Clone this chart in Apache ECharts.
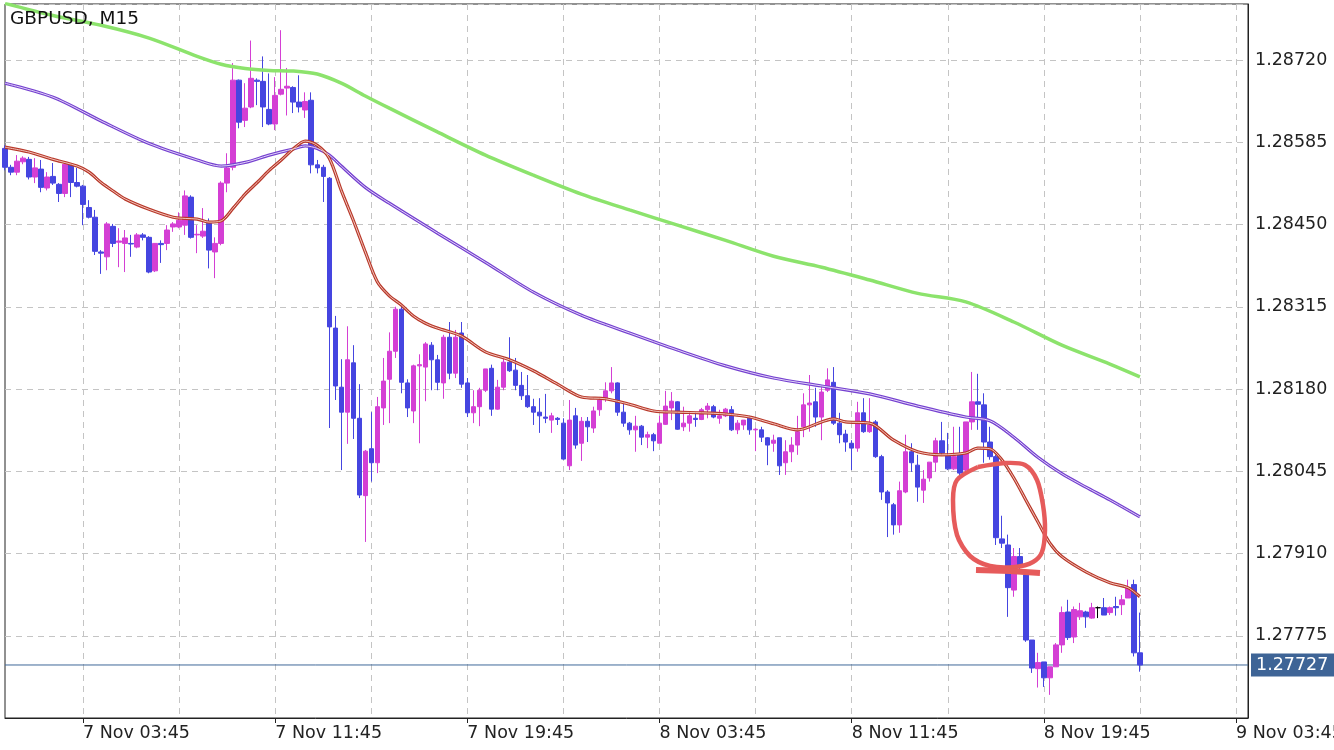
<!DOCTYPE html>
<html><head><meta charset="utf-8">
<script src="https://cdn.jsdelivr.net/npm/echarts@6/dist/echarts.min.js"></script>
<style>html,body{margin:0;padding:0;background:#fff}#c{width:1334px;height:750px}</style>
</head><body><div id="c"></div>
<script>
const openP = [1.28575,1.28544,1.28536,1.28553,1.28557,1.28528,1.28541,1.28510,1.28529,1.28516,1.28501,1.28548,1.28519,1.28513,1.28478,1.28462,1.28405,1.28397,1.28447,1.28421,
1.28419,1.28419,1.28413,1.28433,1.28429,1.28374,1.28419,1.28419,1.28446,1.28446,1.28449,1.28495,1.28433,1.28431,1.28452,1.28405,1.28419,1.28518,1.28544,1.28687,
1.28621,1.28643,1.28687,1.28685,1.28639,1.28615,1.28664,1.28674,1.28675,1.28651,1.28638,1.28654,1.28548,1.28544,1.28526,1.28280,1.28183,1.28142,1.28223,1.28132,
1.28005,1.28082,1.28059,1.28149,1.28196,1.28242,1.28311,1.28190,1.28144,1.28218,1.28216,1.28252,1.28228,1.28190,1.28265,1.28206,1.28272,1.28190,1.28141,1.28151,
1.28178,1.28214,1.28147,1.28183,1.28224,1.28211,1.28186,1.28169,1.28151,1.28142,1.28134,1.28129,1.28132,1.28124,1.28054,1.28136,1.28091,1.28127,1.28116,1.28146,
1.28165,1.28177,1.28190,1.28142,1.28124,1.28113,1.28119,1.28101,1.28105,1.28091,1.28122,1.28149,1.28159,1.28118,1.28124,1.28132,1.28130,1.28146,1.28151,1.28132,
1.28136,1.28146,1.28113,1.28121,1.28132,1.28113,1.28113,1.28100,1.28091,1.28100,1.28059,1.28077,1.28088,1.28118,1.28154,1.28159,1.28134,1.28178,1.28191,1.28124,
1.28106,1.28091,1.28083,1.28141,1.28110,1.28126,1.28069,1.28011,1.27990,1.27957,1.28011,1.28077,1.28055,1.28014,1.28034,1.28060,1.28095,1.28070,1.28049,1.28072,
1.28047,1.28126,1.28159,1.28154,1.28093,1.28069,1.27934,1.27924,1.27850,1.27905,1.27875,1.27768,1.27721,1.27732,1.27706,1.27724,1.27760,1.27814,1.27773,1.27806,
1.27814,1.27804,1.27821,1.27821,1.27813,1.27823,1.27826,1.27837,1.27859,1.27747];
const closeP = [1.28544,1.28536,1.28554,1.28559,1.28528,1.28543,1.28511,1.28528,1.28518,1.28501,1.28549,1.28519,1.28513,1.28483,1.28462,1.28406,1.28403,1.28451,1.28419,1.28423,
1.28428,1.28418,1.28433,1.28429,1.28372,1.28419,1.28417,1.28441,1.28451,1.28457,1.28497,1.28429,1.28434,1.28439,1.28408,1.28419,1.28518,1.28543,1.28687,1.28618,
1.28641,1.28690,1.28685,1.28643,1.28615,1.28662,1.28672,1.28677,1.28651,1.28643,1.28652,1.28548,1.28543,1.28529,1.28282,1.28185,1.28142,1.28228,1.28132,1.28006,
1.28078,1.28059,1.28151,1.28193,1.28242,1.28311,1.28191,1.28149,1.28218,1.28220,1.28254,1.28228,1.28191,1.28265,1.28206,1.28265,1.28188,1.28141,1.28151,1.28178,
1.28213,1.28147,1.28183,1.28224,1.28210,1.28186,1.28169,1.28151,1.28142,1.28136,1.28132,1.28136,1.28130,1.28065,1.28129,1.28088,1.28127,1.28118,1.28144,1.28162,
1.28177,1.28190,1.28142,1.28124,1.28113,1.28119,1.28101,1.28105,1.28095,1.28124,1.28152,1.28160,1.28114,1.28124,1.28136,1.28130,1.28146,1.28152,1.28134,1.28136,
1.28147,1.28113,1.28124,1.28129,1.28113,1.28114,1.28101,1.28088,1.28096,1.28054,1.28077,1.28088,1.28110,1.28154,1.28157,1.28134,1.28175,1.28195,1.28124,1.28105,
1.28093,1.28083,1.28141,1.28110,1.28121,1.28069,1.28011,1.27993,1.27957,1.28013,1.28077,1.28059,1.28019,1.28032,1.28060,1.28095,1.28075,1.28049,1.28069,1.28042,
1.28126,1.28159,1.28155,1.28093,1.28069,1.27936,1.27927,1.27854,1.27905,1.27891,1.27768,1.27722,1.27731,1.27706,1.27724,1.27760,1.27813,1.27772,1.27818,1.27816,
1.27806,1.27821,1.27821,1.27809,1.27821,1.27821,1.27834,1.27854,1.27747,1.27727];
const lowP = [1.28539,1.28531,1.28531,1.28549,1.28524,1.28518,1.28503,1.28506,1.28515,1.28487,1.28495,1.28495,1.28511,1.28449,1.28460,1.28400,1.28369,1.28375,1.28413,1.28380,
1.28372,1.28397,1.28411,1.28424,1.28370,1.28372,1.28387,1.28408,1.28438,1.28444,1.28433,1.28427,1.28403,1.28428,1.28378,1.28362,1.28416,1.28503,1.28539,1.28608,
1.28610,1.28641,1.28646,1.28610,1.28613,1.28605,1.28662,1.28629,1.28633,1.28634,1.28625,1.28534,1.28534,1.28487,1.28116,1.28162,1.28047,1.28090,1.28098,1.28001,
1.27929,1.28028,1.28042,1.28121,1.28124,1.28231,1.28173,1.28134,1.28124,1.28091,1.28160,1.28178,1.28178,1.28164,1.28196,1.28198,1.28182,1.28134,1.28124,1.28119,
1.28175,1.28136,1.28146,1.28178,1.28208,1.28178,1.28162,1.28149,1.28121,1.28108,1.28124,1.28108,1.28121,1.28064,1.28047,1.28082,1.28062,1.28093,1.28108,1.28136,
1.28159,1.28173,1.28136,1.28118,1.28105,1.28077,1.28088,1.28083,1.28078,1.28091,1.28121,1.28129,1.28113,1.28111,1.28110,1.28118,1.28129,1.28132,1.28132,1.28123,
1.28134,1.28111,1.28106,1.28113,1.28105,1.28078,1.28093,1.28055,1.28077,1.28039,1.28039,1.28060,1.28072,1.28101,1.28110,1.28118,1.28096,1.28175,1.28121,1.28091,
1.28077,1.28047,1.28077,1.28108,1.28108,1.28067,1.27998,1.27937,1.27941,1.27944,1.28009,1.28044,1.27995,1.27993,1.28028,1.28044,1.28072,1.28047,1.28047,1.28039,
1.28042,1.28113,1.28113,1.28059,1.28064,1.27924,1.27919,1.27806,1.27839,1.27878,1.27765,1.27714,1.27690,1.27691,1.27678,1.27724,1.27747,1.27768,1.27763,1.27801,
1.27788,1.27803,1.27804,1.27809,1.27809,1.27808,1.27809,1.27837,1.27741,1.27716];
const highP = [1.28580,1.28548,1.28564,1.28562,1.28561,1.28559,1.28556,1.28536,1.28551,1.28518,1.28553,1.28549,1.28543,1.28515,1.28490,1.28474,1.28408,1.28454,1.28451,1.28444,
1.28441,1.28433,1.28436,1.28436,1.28431,1.28419,1.28424,1.28449,1.28454,1.28470,1.28506,1.28498,1.28449,1.28477,1.28460,1.28429,1.28521,1.28567,1.28715,1.28688,
1.28682,1.28752,1.28690,1.28726,1.28698,1.28692,1.28769,1.28707,1.28677,1.28695,1.28667,1.28667,1.28556,1.28548,1.28528,1.28300,1.28229,1.28283,1.28252,1.28188,
1.28080,1.28142,1.28167,1.28231,1.28273,1.28315,1.28315,1.28196,1.28220,1.28237,1.28257,1.28257,1.28236,1.28269,1.28290,1.28277,1.28290,1.28198,1.28178,1.28182,
1.28213,1.28220,1.28195,1.28233,1.28265,1.28231,1.28208,1.28203,1.28164,1.28165,1.28172,1.28141,1.28134,1.28132,1.28162,1.28149,1.28134,1.28134,1.28151,1.28167,
1.28191,1.28216,1.28191,1.28157,1.28126,1.28136,1.28121,1.28110,1.28108,1.28136,1.28177,1.28175,1.28160,1.28151,1.28142,1.28141,1.28149,1.28157,1.28154,1.28146,
1.28149,1.28152,1.28129,1.28129,1.28136,1.28116,1.28118,1.28101,1.28105,1.28100,1.28096,1.28101,1.28136,1.28173,1.28203,1.28182,1.28183,1.28214,1.28216,1.28141,
1.28113,1.28096,1.28159,1.28165,1.28165,1.28129,1.28072,1.28014,1.27993,1.28028,1.28105,1.28091,1.28072,1.28047,1.28060,1.28100,1.28126,1.28108,1.28118,1.28118,
1.28126,1.28208,1.28205,1.28173,1.28118,1.28072,1.27972,1.27941,1.27919,1.27919,1.27878,1.27768,1.27747,1.27732,1.27724,1.27763,1.27823,1.27834,1.27823,1.27829,
1.27816,1.27829,1.27823,1.27837,1.27823,1.27839,1.27842,1.27867,1.27867,1.27813];

const maRedIdx = [0,4,8,12,14,16,18,20,24,28,30,32,34,36,38,40,42,44,46,48,50,52,54,56,58,60,62,64,66,68,70,72,76,80,84,88,92,96,100,104,108,112,116,120,124,128,132,136,138,140,144,148,152,156,160,162,164,166,168,170,172,174,176,180,184,187,189];
const maRedVal = [1.28577,1.28569,1.28557,1.28546,1.28536,1.28519,1.28505,1.28492,1.28475,1.28462,1.28460,1.28459,1.28454,1.28456,1.28477,1.28500,1.28519,1.28539,1.28556,1.28574,1.28587,1.28580,1.28559,1.28506,1.28457,1.28405,1.28356,1.28333,1.28318,1.28300,1.28288,1.28280,1.28267,1.28241,1.28228,1.28210,1.28188,1.28167,1.28164,1.28155,1.28144,1.28142,1.28141,1.28139,1.28134,1.28123,1.28113,1.28126,1.28131,1.28126,1.28124,1.28096,1.28077,1.28072,1.28075,1.28083,1.28082,1.28064,1.28034,1.27998,1.27962,1.27927,1.27905,1.27880,1.27862,1.27854,1.27839];
const maPurpleIdx = [0,8,16,24,32,36,40,44,48,50,52,54,56,60,64,72,80,88,96,104,112,120,128,136,144,152,160,164,168,172,176,180,184,189];
const maPurpleVal = [1.28682,1.28659,1.28620,1.28583,1.28556,1.28546,1.28552,1.28564,1.28574,1.28579,1.28575,1.28564,1.28546,1.28511,1.28485,1.28436,1.28388,1.28339,1.28301,1.28272,1.28244,1.28218,1.28198,1.28185,1.28172,1.28152,1.28134,1.28128,1.28101,1.28068,1.28041,1.28019,1.27998,1.27970];
const maGreenIdx = [0,8,16,24,32,36,40,44,48,52,56,60,64,72,80,88,96,104,112,120,128,136,144,152,160,168,176,184,189];
const maGreenVal = [1.28813,1.28793,1.28777,1.28756,1.28726,1.28713,1.28706,1.28703,1.28702,1.28697,1.28682,1.28661,1.28641,1.28602,1.28564,1.28531,1.28500,1.28474,1.28449,1.28424,1.28398,1.28380,1.28359,1.28337,1.28323,1.28290,1.28252,1.28221,1.28200];

const timeTickIdx = [13,45,77,109,141,173,205];
const timeTickLabels = ['7 Nov 03:45','7 Nov 11:45','7 Nov 19:45','8 Nov 03:45','8 Nov 11:45','8 Nov 19:45','9 Nov 03:45'];
const gridLineIdx = [13,29,45,61,77,93,109,125,141,157,173,189,205];
const slotCount = 208;
const lastPrice = 1.27727;
const symbolName = 'GBPUSD, M15';

const BULL = '#d43fd4', BEAR = '#4545e0';
const FONT = 'DejaVu Sans';

const categories = [];
for (let i = 0; i < slotCount; i++) categories.push(String(i));
const labelOf = {};
timeTickIdx.forEach((ix, k) => { labelOf[ix] = timeTickLabels[k]; });

const candleData = openP.map((o, i) => {
  const v = [o, closeP[i], lowP[i], highP[i]];
  if (o === closeP[i]) return { value: v, itemStyle: { color: '#000', color0: '#000', borderColor: '#000', borderColor0: '#000' } };
  return v;
});
const pairs = (ix, vals) => ix.map((x, k) => [x, vals[k]]);

const chart = echarts.init(document.getElementById('c'));
chart.setOption({
  animation: false,
  backgroundColor: '#fff',
  textStyle: { fontFamily: FONT },
  grid: { left: 5, top: 4, width: 1243, height: 714, containLabel: false, outerBoundsMode: 'none', show: true, borderColor: '#222', borderWidth: 1, backgroundColor: 'transparent' },
  title: { text: symbolName, left: 5, top: 5, textStyle: { fontFamily: FONT, fontSize: 18.5, fontWeight: 'normal', color: '#111' } },
  xAxis: {
    type: 'category', data: categories, boundaryGap: false,
    axisLine: { show: true, lineStyle: { color: '#222' } },
    axisTick: { show: true, length: 5, interval: (i) => labelOf[i] !== undefined, lineStyle: { color: '#222' } },
    axisLabel: { interval: (i) => labelOf[i] !== undefined, formatter: (v, i) => labelOf[i] || '', align: 'left', fontSize: 17.5, color: '#222', margin: 6, fontFamily: FONT, hideOverlap: false },
    splitLine: { show: true, interval: (i) => gridLineIdx.indexOf(i) >= 0, lineStyle: { color: '#c4c4c4', type: [6, 5], width: 1 } }
  },
  yAxis: {
    type: 'value', position: 'right', min: 1.27640, max: 1.28812, interval: 0.00135, scale: true,
    axisLine: { show: true, lineStyle: { color: '#222' } },
    axisTick: { show: false },
    axisLabel: { showMinLabel: false, showMaxLabel: false, formatter: (v) => v.toFixed(5), fontSize: 17.5, color: '#222', margin: 7, fontFamily: FONT },
    splitLine: { show: true, lineStyle: { color: '#c4c4c4', type: [6, 5], width: 1 } }
  },
  series: [
    {
      type: 'candlestick', data: candleData, barWidth: 5,
      itemStyle: { color: BULL, color0: BEAR, borderColor: BULL, borderColor0: BEAR, borderWidth: 1 },
      z: 3
    },
    { type: 'line', data: pairs(maGreenIdx, maGreenVal), smooth: 0.3, symbol: 'none', lineStyle: { color: '#8ce36c', width: 3.5 }, z: 4 },
    { type: 'line', data: pairs(maPurpleIdx, maPurpleVal), smooth: 0.3, symbol: 'none', lineStyle: { color: '#7540d0', width: 3.2 }, z: 4 },
    { type: 'line', data: pairs(maPurpleIdx, maPurpleVal), smooth: 0.3, symbol: 'none', lineStyle: { color: '#e2d6f7', width: 1 }, z: 5 },
    { type: 'line', data: pairs(maRedIdx, maRedVal), smooth: 0.3, symbol: 'none', lineStyle: { color: '#b8382a', width: 3.2 }, z: 4 },
    { type: 'line', data: pairs(maRedIdx, maRedVal), smooth: 0.3, symbol: 'none', lineStyle: { color: '#f2c7bd', width: 1 }, z: 5 },
    {
      type: 'line', data: [[0, lastPrice], [slotCount - 1, lastPrice]], symbol: 'none', silent: true,
      lineStyle: { color: '#3f6899', width: 1 }, z: 2,
      endLabel: { show: true, formatter: lastPrice.toFixed(5), distance: 3, backgroundColor: '#3e6496', color: '#fff', fontSize: 17.5, padding: [3, 7, 2, 5], fontFamily: FONT }
    }
  ],
  graphic: [
    { type: 'polyline', z: 100, shape: { points: [[978,467],[1005,463],[1025,465],[1037,480],[1043,505],[1045,530],[1042,552],[1033,562],[1015,567],[990,566],[970,556],[957,535],[953,500],[957,480],[978,467]], smooth: 0.3 }, style: { stroke: '#e65b5b', lineWidth: 4.5, fill: null } },
    { type: 'polyline', z: 100, shape: { points: [[976,570],[1010,571],[1040,573]] }, style: { stroke: '#e65b5b', lineWidth: 6, fill: null } }
  ]
});
</script></body></html>
